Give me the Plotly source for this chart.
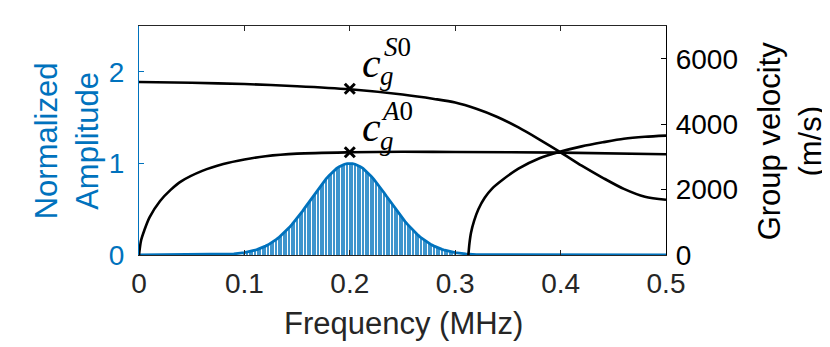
import plotly.graph_objects as go

BLUE = "#0072BD"
DARK = "#262626"
SANS = "Liberation Sans, Arial, sans-serif"
SERIF = "Liberation Serif, DejaVu Serif, serif"

# spectrum of the excitation, read every 0.0025 MHz from 0.1 to 0.3 MHz
SPEC_START = 0.1
SPEC_STEP = 0.0025
spec_amp = [
    0.026, 0.031, 0.037, 0.044, 0.052, 0.061, 0.071, 0.083, 0.097, 0.111,
    0.128, 0.147, 0.167, 0.189, 0.214, 0.240, 0.269, 0.299, 0.331, 0.365,
    0.401, 0.439, 0.477, 0.517, 0.557, 0.598, 0.639, 0.680, 0.720, 0.759,
    0.796, 0.831, 0.864, 0.894, 0.921, 0.945, 0.964, 0.980, 0.991, 0.998,
    1.000,
    0.998, 0.991, 0.980, 0.964, 0.945, 0.921, 0.894, 0.864, 0.831, 0.796,
    0.759, 0.720, 0.680, 0.639, 0.598, 0.557, 0.517, 0.477, 0.439, 0.401,
    0.365, 0.331, 0.299, 0.269, 0.240, 0.214, 0.189, 0.167, 0.147, 0.128,
    0.111, 0.097, 0.083, 0.071, 0.061, 0.052, 0.044, 0.037, 0.031, 0.026,
]
spec_freq = [round(SPEC_START + i * SPEC_STEP, 4) for i in range(len(spec_amp))]
# outside the band the spectrum is flat at zero
low_tail_freq = [0.0, 0.08, 0.09]
low_tail_amp = [0.0, 0.004, 0.012]
high_tail_freq = [0.31, 0.32, 0.5]
high_tail_amp = [0.012, 0.004, 0.0]

# group velocity dispersion curves (m/s)
s0_freq = [0, 0.05, 0.1, 0.15, 0.2, 0.25, 0.28, 0.3, 0.32, 0.34, 0.36, 0.38,
           0.4, 0.42, 0.44, 0.46, 0.48, 0.5]
s0_vel = [5290, 5265, 5225, 5160, 5065, 4905, 4770, 4660, 4470, 4220, 3900,
          3530, 3140, 2730, 2360, 2020, 1780, 1690]

a0_freq = [0, 0.002, 0.005, 0.01, 0.02, 0.03, 0.04, 0.06, 0.08, 0.1, 0.12,
           0.15, 0.2, 0.25, 0.3, 0.4, 0.5]
a0_vel = [0, 450, 750, 1150, 1650, 1990, 2250, 2570, 2780, 2920, 3020, 3100,
          3140, 3155, 3150, 3130, 3080]

a1_freq = [0.3125, 0.3135, 0.315, 0.318, 0.322, 0.328, 0.335, 0.345, 0.36,
           0.38, 0.4, 0.42, 0.44, 0.46, 0.48, 0.5]
a1_vel = [0, 350, 680, 1050, 1400, 1750, 2030, 2300, 2640, 2960, 3160, 3320,
          3445, 3555, 3615, 3650]

# marked points at the centre frequency
mark_freq = [0.2, 0.2]
mark_vel = [5080, 3140]

x_ticks = [0, 0.1, 0.2, 0.3, 0.4, 0.5]
amp_ticks = [0, 1, 2]
vel_ticks = [0, 2000, 4000, 6000]

fig = go.Figure()

fig.add_trace(go.Bar(
    x=spec_freq, y=spec_amp, width=0.0011,
    marker={"color": BLUE, "line": {"width": 0}}, opacity=0.75,
    yaxis="y", showlegend=False,
))
fig.add_trace(go.Scatter(
    x=low_tail_freq + spec_freq + high_tail_freq,
    y=low_tail_amp + spec_amp + high_tail_amp,
    mode="lines", line={"color": BLUE, "width": 2.8},
    yaxis="y", showlegend=False,
))

for fx, vy in ((s0_freq, s0_vel), (a0_freq, a0_vel), (a1_freq, a1_vel)):
    fig.add_trace(go.Scatter(
        x=fx, y=vy, mode="lines",
        line={"color": "black", "width": 2.6, "shape": "spline", "smoothing": 0.8},
        yaxis="y2", showlegend=False,
    ))

fig.add_trace(go.Scatter(
    x=mark_freq, y=mark_vel, mode="markers",
    marker={"symbol": "x-thin", "size": 10, "line": {"color": "black", "width": 3}},
    yaxis="y2", showlegend=False,
))


# c_g labels built from separate pieces (no MathJax offline)
def math_label(y_base, sup):
    pieces = [
        ("<i>c</i>", 0.221, y_base, 42),
        ("<i>g</i>", 0.235, y_base - 0.15, 27),
        (sup, 0.245, y_base + 0.17, 27),
    ]
    for text, x, y, size in pieces:
        fig.add_annotation(
            text=text, x=x, y=y, xref="x", yref="y", showarrow=False,
            xanchor="center", yanchor="middle",
            font={"family": SERIF, "size": size, "color": "black"},
        )


math_label(2.10, "<i>S</i>0")
math_label(1.40, "<i>A</i>0")

fig.add_annotation(
    text="Normalized<br>Amplitude", textangle=-90, xref="paper", yref="paper",
    x=-0.137, y=0.5, showarrow=False, xanchor="center", yanchor="middle",
    font={"family": SANS, "size": 31, "color": BLUE},
)
fig.add_annotation(
    text="Group velocity<br>(m/s)", textangle=-90, xref="paper", yref="paper",
    x=1.235, y=0.5, showarrow=False, xanchor="center", yanchor="middle",
    font={"family": SANS, "size": 31, "color": "black"},
)
fig.add_annotation(
    text="Frequency (MHz)", xref="paper", yref="paper",
    x=0.501, y=-0.3, showarrow=False, xanchor="center", yanchor="middle",
    font={"family": SANS, "size": 31, "color": DARK},
)

# the page body adds an 8 px margin, so the figure is 8 px smaller on each side
fig.update_layout(
    width=822, height=339,
    margin={"l": 131, "r": 164, "t": 18, "b": 92, "autoexpand": False},
    paper_bgcolor="white", plot_bgcolor="white",
    bargap=0,
    font={"family": SANS, "size": 28, "color": DARK},
    xaxis={
        "range": [0, 0.5], "tickvals": x_ticks, "ticktext": [f"{v:g}" for v in x_ticks],
        "ticks": "inside", "ticklen": 5, "tickwidth": 1, "tickcolor": DARK,
        "showline": True, "linecolor": DARK, "linewidth": 1.2, "mirror": "ticks",
        "showgrid": False, "zeroline": False, "automargin": False,
        "tickfont": {"size": 28, "color": DARK}, "ticklabelstandoff": 3,
    },
    yaxis={
        "range": [0, 2.5], "tickvals": amp_ticks,
        "ticks": "inside", "ticklen": 5, "tickwidth": 1, "tickcolor": BLUE,
        "showline": True, "linecolor": BLUE, "linewidth": 1.2,
        "showgrid": False, "zeroline": False, "automargin": False,
        "tickfont": {"size": 28, "color": BLUE}, "ticklabelstandoff": 8,
    },
    yaxis2={
        "range": [0, 7000], "tickvals": vel_ticks, "overlaying": "y", "side": "right",
        "anchor": "x",
        "ticks": "inside", "ticklen": 5, "tickwidth": 1, "tickcolor": "black",
        "showline": True, "linecolor": "black", "linewidth": 1.2,
        "showgrid": False, "zeroline": False, "automargin": False,
        "tickfont": {"size": 28, "color": "black"}, "ticklabelstandoff": 3,
    },
)

fig.write_html("out.html")
